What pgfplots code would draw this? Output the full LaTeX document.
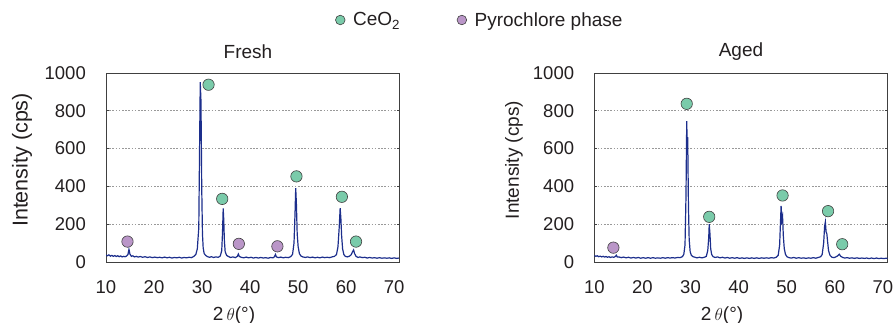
\documentclass[border=0pt]{standalone}
\usepackage{fontspec}
\setmainfont{Liberation Sans}
\usepackage{pgfplots}
\usepackage{pgfplotstable}
\pgfplotsset{compat=1.18}
\definecolor{ceo}{RGB}{122,203,170}
\definecolor{pyro}{RGB}{186,150,200}
\definecolor{trace}{RGB}{28,46,140}
\definecolor{frame}{RGB}{64,64,64}
\definecolor{txt}{RGB}{35,31,32}

\pgfplotstableread{
x y
10.0 36
10.3 33
10.6 38
10.9 31
11.2 35
11.5 30
11.8 34
12.1 29
12.4 33
12.7 28
13.0 32
13.3 27
13.6 30
13.9 28
14.2 31
14.5 40
14.7 67
14.9 42
15.2 30
15.5 33
15.8 27
16.2 30
16.6 26
17.0 29
17.5 25
18.0 28
18.5 24
19.0 27
19.5 23
20.0 26
20.5 23
21.0 25
21.5 22
22.0 26
22.5 22
23.0 25
23.5 21
24.0 24
24.5 22
25.0 25
25.5 21
26.0 24
26.5 22
27.0 25
27.5 23
28.0 30
28.4 40
28.7 70
29.0 180
29.2 700
29.3 952
29.45 850
29.6 400
29.75 150
29.9 75
30.1 45
30.4 35
30.8 28
31.2 25
31.6 28
32.0 24
32.5 27
33.0 25
33.4 32
33.7 60
33.85 150
34.0 283
34.1 230
34.25 110
34.4 55
34.7 35
35.0 30
35.5 24
36.0 27
36.5 23
36.9 30
37.1 42
37.3 29
37.7 25
38.2 22
38.7 26
39.2 22
39.7 25
40.2 21
40.7 24
41.2 21
41.7 24
42.2 21
42.7 23
43.2 20
43.7 24
44.2 22
44.5 28
44.7 40
44.9 27
45.3 23
45.8 26
46.3 22
46.8 25
47.3 23
47.8 28
48.2 40
48.5 100
48.7 250
48.85 391
49.0 300
49.15 150
49.35 80
49.6 45
49.9 32
50.3 27
50.8 24
51.3 27
51.8 23
52.3 26
52.8 22
53.3 25
53.8 22
54.3 26
54.8 23
55.3 25
55.8 23
56.3 27
56.8 30
57.2 40
57.5 80
57.75 180
57.95 285
58.1 230
58.25 140
58.45 70
58.7 40
59.0 30
59.4 27
59.8 30
60.2 38
60.5 55
60.7 64
60.9 45
61.2 30
61.6 24
62.0 27
62.5 23
63.0 25
63.5 21
64.0 24
64.5 21
65.0 23
65.5 20
66.0 23
66.5 20
67.0 22
67.5 20
68.0 22
68.5 19
69.0 22
69.5 19
70.0 21
}\fresh

\pgfplotstableread{
x y
10.0 35
10.3 30
10.6 33
10.9 28
11.2 31
11.5 27
11.8 30
12.1 26
12.4 29
12.7 25
13.0 28
13.3 24
13.6 27
14.0 25
14.3 29
14.5 36
14.7 26
15.0 27
15.5 23
16.0 26
16.5 22
17.0 25
17.5 21
18.0 24
18.5 21
19.0 24
19.5 20
20.0 23
20.5 20
21.0 23
21.5 20
22.0 23
22.5 20
23.0 22
23.5 20
24.0 23
24.5 20
25.0 23
25.5 21
26.0 23
26.5 21
27.0 24
27.5 23
28.0 28
28.3 40
28.55 90
28.75 350
28.9 745
29.0 620
29.1 660
29.25 300
29.4 120
29.6 55
29.85 35
30.2 28
30.6 25
31.0 22
31.5 25
32.0 22
32.5 25
32.9 30
33.2 60
33.4 130
33.5 200
33.65 150
33.8 70
34.0 40
34.3 28
34.7 24
35.2 27
35.7 22
36.2 25
36.7 21
37.2 24
37.7 20
38.2 23
38.7 20
39.2 23
39.7 19
40.2 22
40.7 19
41.2 22
41.7 19
42.2 22
42.7 19
43.2 22
43.7 19
44.2 22
44.7 20
45.2 22
45.7 20
46.2 23
46.7 21
47.2 25
47.6 35
47.9 90
48.1 230
48.2 297
48.35 220
48.5 240
48.65 140
48.85 70
49.1 40
49.4 28
49.8 23
50.3 21
50.8 24
51.3 20
51.8 23
52.3 20
52.8 22
53.3 19
53.8 22
54.3 20
54.8 23
55.3 20
55.8 24
56.3 28
56.6 40
56.9 100
57.1 190
57.25 212
57.4 160
57.55 150
57.7 110
57.9 60
58.2 35
58.6 25
59.0 23
59.4 27
59.8 33
60.1 41
60.4 30
60.8 24
61.2 21
61.7 23
62.2 20
62.7 22
63.2 19
63.7 22
64.2 19
64.7 21
65.2 19
65.7 21
66.2 18
66.7 21
67.2 18
67.7 21
68.2 18
68.7 20
69.2 18
69.7 20
70.0 19
}\aged

\pgfplotsset{xrd/.style={
  scale only axis, width=293pt, height=189pt, anchor=south west,
  xmin=10, xmax=70, ymin=0, ymax=1000,
  xtick={10,20,...,70}, ytick={0,200,...,1000},
  ymajorgrids, grid style={draw=gray!80, dash pattern=on 1.6pt off 1.6pt, line width=0.9pt},
  axis line style={draw=frame, line width=0.9pt},
  tick align=inside, major tick length=2.5pt,
  ytick style={draw=frame, line width=0.6pt}, xtick style={draw=none},
  tick label style={font=\fontsize{18.5}{20}\selectfont, text=txt},
  /pgf/number format/assume math mode=true, /pgf/number format/1000 sep={},
  yticklabel style={inner sep=0pt, anchor=east}, yticklabel shift=20pt,
  xticklabel style={inner sep=0pt, anchor=north}, xticklabel shift=18pt,
  xticklabel={\hspace*{\dimexpr -16pt*\ticknum/10\relax}\pgfmathprintnumber{\tick}},
},
ceom/.style={only marks, mark=*, mark size=5.7pt, mark options={fill=ceo, draw=frame, line width=0.6pt}},
pyrom/.style={only marks, mark=*, mark size=5.7pt, mark options={fill=pyro, draw=frame, line width=0.6pt}},
spec/.style={trace, line width=1.2pt, no marks, forget plot},
}

\begin{document}
\begin{tikzpicture}
\begin{axis}[xrd, at={(106pt,-262pt)},
  legend columns=2,
  legend style={at={(rel axis cs:0.7826,1.2804)}, anchor=west, draw=none, fill=none, inner sep=0pt,
    font=\fontsize{19}{21}\selectfont, text=txt,
    /tikz/every odd column/.append style={column sep=6pt},
    /tikz/every even column/.append style={column sep=55pt}},
  legend image code/.code={\draw[#1, mark size=4.8pt] plot coordinates {(0pt,0pt)};},
]
\addplot[spec] table {\fresh};
\addplot[ceom] coordinates {(31.0,938) (33.8,334) (49.0,453) (58.3,345) (61.2,108)};
\addlegendentry{CeO\textsubscript{2}}
\addplot[pyrom] coordinates {(14.4,108) (37.2,96) (45.1,83)};
\addlegendentry{Pyrochlore phase}
\end{axis}
\begin{axis}[xrd, at={(594.3pt,-262pt)}, width=293.4pt]
\addplot[spec] table {\aged};
\addplot[ceom] coordinates {(28.9,837) (33.5,239) (48.5,352) (57.8,269) (60.7,94)};
\addplot[pyrom] coordinates {(13.9,76)};
\end{axis}
\node[text=txt, font=\fontsize{19}{21}\selectfont] at (248pt,-52pt) {Fresh};
\node[text=txt, font=\fontsize{19}{21}\selectfont] at (741pt,-52pt) {Aged};
\node[text=txt, font=\fontsize{21.5}{23}\selectfont, rotate=90] at (22pt,-160pt) {Intensity (cps)};
\node[text=txt, font=\fontsize{19}{21}\selectfont, rotate=90] at (514pt,-160pt) {Intensity (cps)};
\node[text=txt, font=\fontsize{19}{21}\selectfont, anchor=base] at (234pt,-320.6pt) {2\,$\theta$(°)};
\node[text=txt, font=\fontsize{19}{21}\selectfont, anchor=base] at (722pt,-320.6pt) {2\,$\theta$(°)};
\pgfresetboundingbox
\path[use as bounding box] (0pt,0pt) rectangle (896pt,-323pt);
\end{tikzpicture}
\end{document}
